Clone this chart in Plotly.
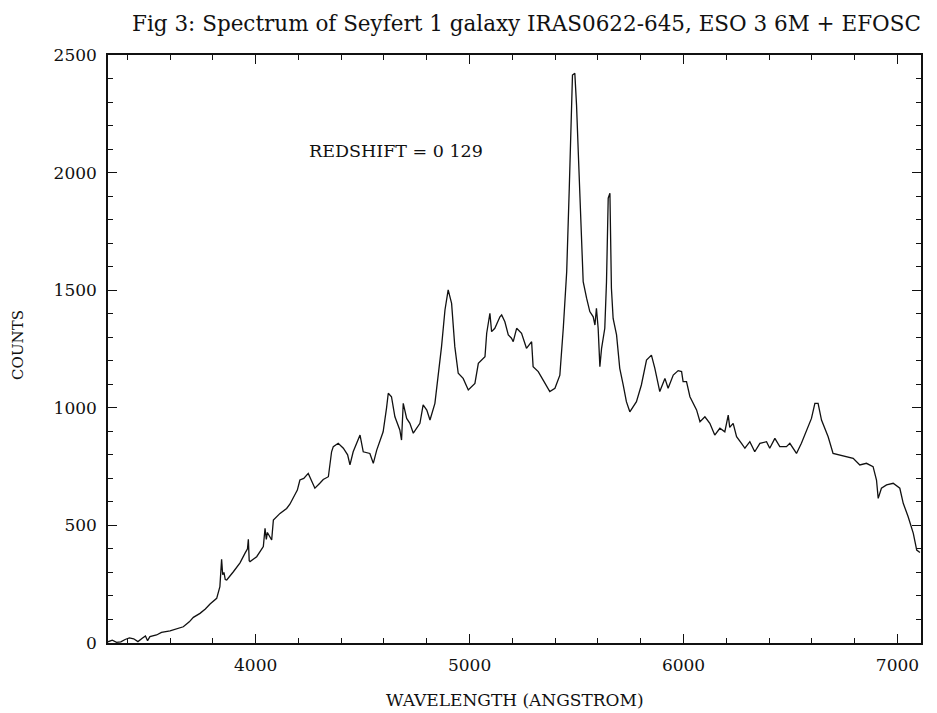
import plotly.graph_objects as go

# Observed wavelength (Angstrom) and detector counts of the spectrum
wavelength = [
    3310, 3330, 3350, 3370, 3390, 3410, 3430, 3450, 3470, 3485, 3495, 3506, 3537, 3560,
    3600, 3630, 3662, 3690, 3709, 3740, 3765, 3787, 3818, 3833, 3841, 3846, 3852, 3858,
    3865, 3896, 3927, 3950, 3962, 3966, 3970, 3974, 4005, 4036, 4044, 4050, 4055, 4075,
    4083, 4114, 4145, 4160, 4176, 4195, 4207, 4225, 4246, 4262, 4277, 4300, 4316, 4340,
    4355, 4363, 4386, 4410, 4430, 4441, 4456, 4488, 4503, 4534, 4550, 4566, 4596, 4612,
    4620, 4635, 4651, 4674, 4682, 4690, 4706, 4721, 4737, 4768, 4783, 4800, 4815, 4838,
    4853, 4869, 4885, 4900, 4916, 4931, 4947, 4970, 4994, 5025, 5041, 5072, 5080, 5095,
    5103, 5118, 5142, 5150, 5165, 5181, 5196, 5204, 5220, 5243, 5266, 5290, 5297, 5321,
    5344, 5375, 5399, 5422, 5438, 5454, 5466, 5474, 5481, 5492, 5500, 5508, 5516, 5523,
    5531, 5547, 5562, 5578, 5586, 5593, 5601, 5609, 5617, 5632, 5640, 5648, 5656, 5663,
    5671, 5687, 5702, 5718, 5733, 5749, 5780, 5803, 5827, 5850, 5866, 5889, 5913, 5928,
    5952, 5975, 5991, 5998, 6014, 6030, 6061, 6077, 6100, 6123, 6146, 6170, 6193, 6209,
    6216, 6232, 6248, 6271, 6287, 6310, 6333, 6357, 6388, 6403, 6427, 6450, 6481, 6497,
    6528, 6551, 6575, 6598, 6614, 6629, 6645, 6660, 6676, 6699, 6731, 6762, 6793, 6824,
    6855, 6886, 6902, 6910, 6925, 6949, 6980, 7011, 7027, 7050, 7074, 7090, 7105,
]
counts = [
    5, 12, 3, 5, 15, 22, 18, 6, 20, 30, 10, 27, 34, 45,
    52, 60, 69, 90, 109, 126, 145, 166, 190, 240, 356, 290, 300, 270,
    268, 303, 341, 381, 400, 441, 350, 346, 367, 410, 488, 440, 470, 438,
    523, 551, 572, 590, 615, 650, 693, 700, 721, 690, 658, 679, 695, 707,
    813, 835, 849, 828, 800, 757, 813, 884, 813, 806, 764, 820, 898, 1000,
    1062, 1047, 962, 906, 863, 1019, 955, 934, 892, 934, 1012, 990, 948, 1019,
    1132, 1260, 1416, 1501, 1444, 1260, 1147, 1125, 1076, 1104, 1189, 1217, 1317, 1402,
    1324, 1338, 1387, 1395, 1366, 1310, 1296, 1281, 1338, 1317, 1253, 1281, 1175, 1154,
    1118, 1069, 1083, 1139, 1338, 1579, 1933, 2202, 2415, 2422, 2287, 2089, 1891, 1664,
    1536, 1466, 1409, 1387, 1352, 1423, 1338, 1175, 1253, 1338, 1536, 1891, 1912, 1508,
    1380, 1310, 1168, 1097, 1026, 983, 1026, 1097, 1203, 1224, 1168, 1069, 1125, 1083,
    1139, 1158, 1154, 1111, 1111, 1047, 991, 941, 962, 934, 884, 913, 898, 969,
    917, 934, 877, 849, 828, 856, 813, 849, 856, 828, 870, 835, 835, 849,
    806, 849, 906, 955, 1019, 1019, 948, 913, 877, 806, 799, 792, 785, 757,
    764, 750, 693, 615, 658, 672, 679, 658, 594, 537, 466, 395, 385,
]

x_range = [3310, 7110]
y_range = [0, 2500]
x_ticks = [4000, 5000, 6000, 7000]
y_ticks = [0, 500, 1000, 1500, 2000, 2500]

title_text = "Fig 3: Spectrum of Seyfert 1 galaxy IRAS0622-645, ESO 3 6M + EFOSC"
redshift_text = "REDSHIFT = 0 129"
x_title = "WAVELENGTH (ANGSTROM)"
y_title = "COUNTS"

FONT = "DejaVu Serif"
INK = "#111111"

fig = go.Figure()
fig.add_trace(go.Scatter(
    x=wavelength, y=counts, mode="lines",
    line=dict(color=INK, width=1.3),
    hoverinfo="skip", showlegend=False,
))

axis_common = dict(
    showline=True, linecolor=INK, linewidth=1.5, mirror="allticks",
    ticks="inside", tickcolor=INK, tickwidth=1.2,
    showgrid=False, zeroline=False,
    tickfont=dict(family=FONT, size=17, color=INK),
    ticklabelstandoff=6,
)

fig.update_xaxes(
    range=x_range, tickvals=x_ticks, ticklen=9,
    minor=dict(dtick=200, tick0=3000, ticks="inside", ticklen=5, tickcolor=INK, tickwidth=1),
    **axis_common,
)
fig.update_yaxes(
    range=y_range, tickvals=y_ticks, ticklen=9,
    minor=dict(dtick=100, tick0=0, ticks="inside", ticklen=5, tickcolor=INK, tickwidth=1),
    **axis_common,
)

# Figure title above the frame, right-aligned with the plot edge
fig.add_annotation(
    text=title_text, xref="paper", yref="paper", x=1.0, y=1.0,
    xanchor="right", yanchor="middle", xshift=2, yshift=32, showarrow=False,
    font=dict(family=FONT, size=21.5, color=INK),
)
# Axis titles
fig.add_annotation(
    text=x_title, xref="paper", yref="paper", x=0.5, y=0.0,
    xanchor="center", yanchor="middle", yshift=-57, showarrow=False,
    font=dict(family=FONT, size=17, color=INK),
)
fig.add_annotation(
    text=y_title, xref="paper", yref="paper", x=0.0, y=0.507,
    xanchor="center", yanchor="middle", xshift=-90, textangle=-90, showarrow=False,
    font=dict(family=FONT, size=15, color=INK),
)
fig.add_annotation(
    text=redshift_text, xref="x", yref="y", x=4240, y=2092,
    xanchor="left", yanchor="middle", showarrow=False,
    font=dict(family=FONT, size=17.5, color=INK),
)

fig.update_layout(
    width=937, height=713,
    margin=dict(l=108, r=16, t=55, b=70, pad=0),
    paper_bgcolor="white", plot_bgcolor="white",
)

fig.write_html("out.html")
